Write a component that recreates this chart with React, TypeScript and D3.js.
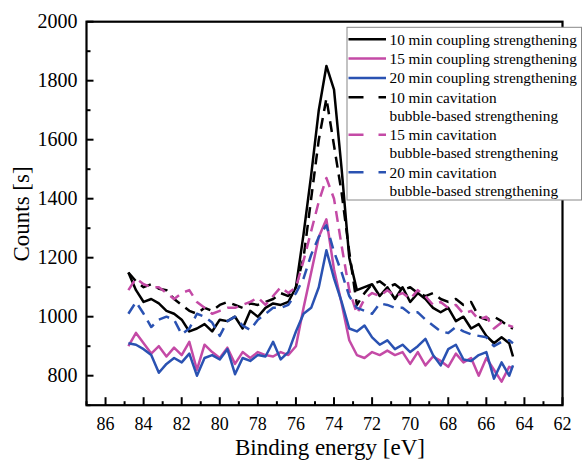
import React from "react";
import * as d3 from "d3";

const energies = [84.8, 84.4, 84.0, 83.6, 83.2, 82.8, 82.4, 82.0, 81.6, 81.2, 80.8, 80.4, 80.0, 79.6, 79.2, 78.8, 78.4, 78.0, 77.6, 77.2, 76.8, 76.4, 76.0, 75.6, 75.2, 74.8, 74.4, 74.0, 73.6, 73.2, 72.8, 72.4, 72.0, 71.6, 71.2, 70.8, 70.4, 70.0, 69.6, 69.2, 68.8, 68.4, 68.0, 67.6, 67.2, 66.8, 66.4, 66.0, 65.6, 65.2, 64.8, 64.6];

const coupling10 = [1150, 1090, 1050, 1060, 1045, 1020, 1010, 990, 950, 960, 975, 950, 990, 985, 1000, 960, 1020, 1000, 1030, 1045, 1040, 1050, 1100, 1280, 1480, 1700, 1850, 1770, 1500, 1200, 1090, 1100, 1110, 1070, 1100, 1060, 1100, 1050, 1080, 1060, 1030, 1015, 1030, 985, 1000, 960, 975, 935, 910, 930, 910, 865];
const coupling15 = [900, 945, 910, 875, 900, 865, 895, 870, 915, 820, 905, 880, 860, 895, 840, 880, 860, 880, 870, 865, 880, 870, 900, 1030, 1150, 1270, 1330, 1160, 1045, 920, 870, 860, 880, 870, 885, 870, 880, 840, 880, 835, 865, 850, 830, 875, 845, 860, 800, 860, 820, 780, 830, 825];
const coupling20 = [910, 905, 890, 870, 810, 840, 860, 845, 875, 800, 860, 870, 855, 890, 805, 860, 850, 870, 865, 915, 855, 880, 950, 1010, 1030, 1100, 1225, 1130, 1050, 960, 950, 970, 930, 905, 920, 890, 905, 880, 900, 925, 870, 835, 890, 905, 855, 850, 870, 880, 790, 845, 800, 835];
const cavitation10 = [1150, 1120, 1100, 1110, 1095, 1090, 1060, 1040, 1020, 1010, 1030, 1020, 1040, 1050, 1040, 1030, 1045, 1040, 1050, 1060, 1080, 1070, 1100, 1200, 1400, 1600, 1740, 1580, 1420, 1220, 1040, 1080, 1110, 1120, 1100, 1110, 1090, 1100, 1080, 1070, 1080, 1060, 1050, 1060, 1040, 1050, 1000, 990, 1000, 985, 965, 960];
const cavitation15 = [1090, 1130, 1110, 1100, 1100, 1080, 1060, 1080, 1090, 1050, 1030, 1010, 1020, 1030, 1030, 1040, 1050, 1065, 1040, 1070, 1100, 1080, 1100, 1190, 1290, 1390, 1470, 1400, 1240, 1090, 1010, 1060, 1080, 1070, 1090, 1070, 1080, 1060, 1090, 1070, 1040, 1050, 1030, 1040, 1010, 1020, 990, 1000, 960, 980, 970, 965];
const cavitation20 = [1010, 1050, 1010, 965, 990, 1000, 990, 940, 960, 1010, 1000, 980, 935, 985, 1000, 970, 955, 990, 1010, 1030, 1030, 1040, 1080, 1130, 1210, 1270, 1310, 1220, 1150, 1070, 1030, 1020, 1010, 1045, 1040, 1030, 1030, 1010, 1015, 990, 970, 950, 945, 965, 950, 940, 935, 930, 900, 915, 920, 910];

const xTicks = [86, 84, 82, 80, 78, 76, 74, 72, 70, 68, 66, 64, 62];
const xMinorTicks = [87, 85, 83, 81, 79, 77, 75, 73, 71, 69, 67, 65, 63];
const yTicks = [800, 1000, 1200, 1400, 1600, 1800, 2000];
const yMinorTicks = [700, 900, 1100, 1300, 1500, 1700, 1900];

const legendLabels = [
  ["10 min coupling strengthening"],
  ["15 min coupling strengthening"],
  ["20 min coupling strengthening"],
  ["10 min cavitation", "bubble-based strengthening"],
  ["15 min cavitation", "bubble-based strengthening"],
  ["20 min cavitation", "bubble-based strengthening"],
];

const BLACK = "#000000";
const MAGENTA = "#C44AA6";
const BLUE = "#2A52B2";

const series = [
  { values: coupling10, color: BLACK, dashed: false },
  { values: coupling15, color: MAGENTA, dashed: false },
  { values: coupling20, color: BLUE, dashed: false },
  { values: cavitation10, color: BLACK, dashed: true },
  { values: cavitation15, color: MAGENTA, dashed: true },
  { values: cavitation20, color: BLUE, dashed: true },
];

const FONT = "'Liberation Serif', 'Times New Roman', serif";

export default function App() {
  const W = 582, H = 460;
  const x = d3.scaleLinear().domain([87, 62]).range([86.5, 562.5]);
  const y = d3.scaleLinear().domain([700, 2000]).range([405.2, 21.7]);
  const line = d3
    .line<[number, number]>()
    .x((d) => x(d[0]))
    .y((d) => y(d[1]));

  const left = x(87), right = x(62), top = y(2000), bottom = y(700);

  const lgX = 347, lgY = 27.3, lgW = 234.5, lgH = 172.7;
  const rowY: number[] = [];
  let cy = 39.3;
  legendLabels.forEach((lab) => {
    rowY.push(cy);
    cy += lab.length > 1 ? 37.5 : 19.3;
  });

  return (
    <svg width={W} height={H} style={{ position: "absolute", left: 0, top: 0 }} fontFamily={FONT}>
      <rect x={0} y={0} width={W} height={H} fill="#fff" />
      {series.map((s, i) => (
        <path
          key={i}
          d={line(energies.map((e, j) => [e, s.values[j]]) as [number, number][]) || ""}
          fill="none"
          stroke={s.color}
          strokeWidth={2.5}
          strokeLinejoin="round"
          strokeDasharray={s.dashed ? "11 7" : undefined}
        />
      ))}
      <rect x={left} y={top} width={right - left} height={bottom - top} fill="none" stroke="#000" strokeWidth={2.2} />
      {xTicks.map((t) => (
        <g key={"xt" + t}>
          <line x1={x(t)} x2={x(t)} y1={bottom} y2={bottom - 8} stroke="#000" strokeWidth={2} />
          <text x={x(t)} y={430} textAnchor="middle" fontSize={18} fill="#000">
            {t}
          </text>
        </g>
      ))}
      {xMinorTicks.map((t) => (
        <line key={"xm" + t} x1={x(t)} x2={x(t)} y1={bottom} y2={bottom - 4} stroke="#000" strokeWidth={2} />
      ))}
      {yTicks.map((t) => (
        <g key={"yt" + t}>
          <line x1={left} x2={left + 7} y1={y(t)} y2={y(t)} stroke="#000" strokeWidth={2} />
          <text x={77.5} y={y(t) + 6.6} textAnchor="end" fontSize={20} fill="#000">
            {t}
          </text>
        </g>
      ))}
      {yMinorTicks.map((t) => (
        <line key={"ym" + t} x1={left} x2={left + 4} y1={y(t)} y2={y(t)} stroke="#000" strokeWidth={2} />
      ))}
      <text x={330} y={455} textAnchor="middle" fontSize={23} fill="#000">
        Binding energy [eV]
      </text>
      <text transform="translate(28.5,214) rotate(-90)" textAnchor="middle" fontSize={23} fill="#000">
        Counts [s]
      </text>
      <rect x={lgX} y={lgY} width={lgW} height={lgH} fill="#fff" stroke="#888" strokeWidth={1} />
      {legendLabels.map((lab, i) => {
        const s = series[i];
        const ly = rowY[i];
        return (
          <g key={"lg" + i}>
            <line
              x1={348.5}
              x2={386}
              y1={ly}
              y2={ly}
              stroke={s.color}
              strokeWidth={2.5}
              strokeDasharray={s.dashed ? "15 15" : undefined}
            />
            {lab.map((t, k) => (
              <text key={k} x={389.5} y={ly + 5.5 + k * 17.8} fontSize={15.3} fill="#000">
                {t}
              </text>
            ))}
          </g>
        );
      })}
    </svg>
  );
}
